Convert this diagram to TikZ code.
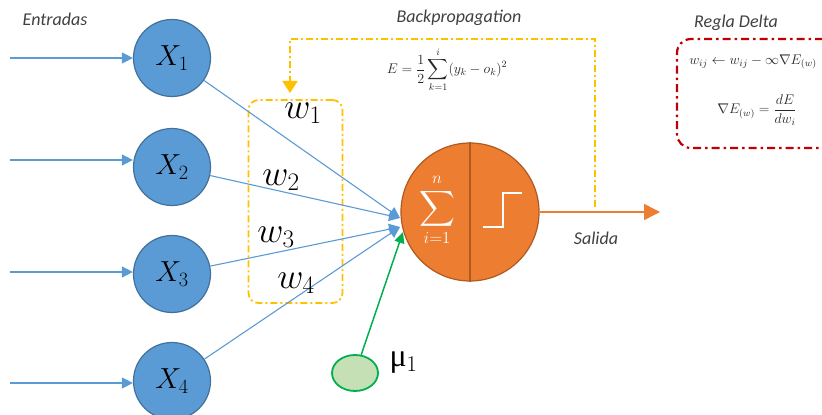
\RequirePackage{fix-cm}
\documentclass[tikz,border=0pt]{standalone}
\usepackage{amsmath}
\usepackage{fontspec}
\newfontfamily\calib{Carlito}
\newfontfamily\libserif{Liberation Serif}
\usetikzlibrary{arrows.meta,shapes.geometric}
\definecolor{xblue}{HTML}{5B9BD5}
\definecolor{xblueD}{HTML}{41719C}
\definecolor{ocol}{HTML}{ED7D31}
\definecolor{ocolD}{HTML}{AE5A21}
\definecolor{ycol}{HTML}{FFC000}
\definecolor{rcol}{HTML}{C00000}
\definecolor{gcol}{HTML}{00B050}
\definecolor{gfill}{HTML}{C5E0B4}
\definecolor{txtgray}{HTML}{404040}
\definecolor{fgray}{HTML}{262626}
\begin{document}
\begin{tikzpicture}[x=1pt,y=1pt,
  xnode/.style={circle, fill=xblue, draw=xblueD, line width=1.2pt, minimum size=77pt, inner sep=0pt, font=\fontsize{29}{31}\selectfont},
  bline/.style={xblue, line width=1.1pt, -{Triangle[length=11pt,width=11pt]}},
  lbl/.style={font=\calib\itshape\fontsize{18}{20}\selectfont, text=txtgray},
  ydash/.style={ycol, line width=1.8pt, dash pattern=on 7pt off 3pt on 2pt off 3pt},
  rdash/.style={rcol, line width=2.2pt, dash pattern=on 8pt off 4pt on 2.5pt off 4pt},
  wlbl/.style={font=\fontsize{36}{38}\selectfont},
  fml/.style={font=\fontsize{14}{16}\selectfont, text=fgray},
]
\useasboundingbox (0,0) rectangle (822,415);

% input neurons
\node[xnode] (X1) at (172,357) {$X_1$};
\node[xnode] (X2) at (172,248) {$X_2$};
\node[xnode] (X3) at (172,141) {$X_3$};
\node[xnode] (X4) at (172,34) {$X_4$};

\coordinate (i1) at (10,357);
\coordinate (i2) at (10,255);
\coordinate (i3) at (10,143);
\coordinate (i4) at (10,32);
\draw[bline] (i1) -- (i1 -| X1.west);
\draw[bline] (i2) -- (i2 -| X2.west);
\draw[bline] (i3) -- (i3 -| X3.west);
\draw[bline] (i4) -- (i4 -| X4.west);

\node[lbl] (ent) at (55,396) {Entradas};

% weights box
\node[draw=ycol, ydash, rounded corners=10pt, minimum width=94pt, minimum height=203pt, inner sep=0pt] (wbox) at (295.5,213.5) {};

% neuron
\node[circle, fill=ocol, draw=ocolD, line width=1.2pt, minimum size=138pt, inner sep=0pt] (N) at (470,203) {};
\draw[ocolD, line width=1.2pt] (N.north) -- (N.south);
\node[text=white, font=\fontsize{24}{28}\selectfont] (S) at (437,205) {$\displaystyle\sum_{i=1}^{n}$};
\draw[white, line width=2pt] (483,188) -- (503,188) -- (503,222) -- (522,222);

% targets of connections
\coordinate (ta) at (400,197);
\coordinate (tb) at (400,188);
\coordinate (tg) at (403,183);
\draw[bline] (X1) -- (ta);
\draw[bline] (X2) -- (ta);
\draw[bline] (X3) -- (tb);
\draw[bline] (X4) -- (tb);

% weights
\node[wlbl] (w1) at (303,302) {$w_1$};
\node[wlbl] (w2) at (281,235) {$w_2$};
\node[wlbl] (w3) at (276,178) {$w_3$};
\node[wlbl] (w4) at (296,132) {$w_4$};

% bias
\node[ellipse, fill=gfill, draw=gcol, line width=1.8pt, minimum width=46pt, minimum height=36pt, inner sep=0pt] (mu) at (355,42) {};
\draw[gcol, line width=1.5pt, -{Triangle[length=11pt,width=10pt]}] (mu) -- (tg);
\node[font=\fontsize{32}{34}\selectfont, anchor=west] (mulbl) at (386,52) {{\libserif μ}$_1$};

% output
\coordinate (out) at (660,203);
\draw[ocol, line width=1.5pt, -{Triangle[length=16pt,width=16pt]}] (N.east) -- (out);
\node[lbl] (sal) at (596,177) {Salida};

% backpropagation
\coordinate (bp0) at (595,208);
\coordinate (bp2) at (290,376);
\coordinate (bp3) at (290,322);
\draw[ydash, -{Triangle[length=12pt,width=15pt]}] (bp0) |- (bp2) -- (bp3);
\node[lbl] (bpl) at (459,397) {Backpropagation};
\node[fml] (Ef) at (447,345) {$\displaystyle E=\frac{1}{2}\sum_{k=1}^{i}(y_k-o_k)^2$};

% Regla delta
\node[lbl] (rdl) at (736,392) {Regla Delta};
\node[draw=rcol, rdash, rounded corners=14pt, minimum width=160pt, minimum height=109pt, inner sep=0pt] (rbox) at (757,321.5) {};
\node[fml] (f1) at (753,353) {$w_{ij}\leftarrow w_{ij}-\infty\nabla E_{(w)}$};
\node[fml] (f2) at (757,305) {$\nabla E_{(w)}=\dfrac{dE}{dw_i}$};
\end{tikzpicture}
\end{document}
